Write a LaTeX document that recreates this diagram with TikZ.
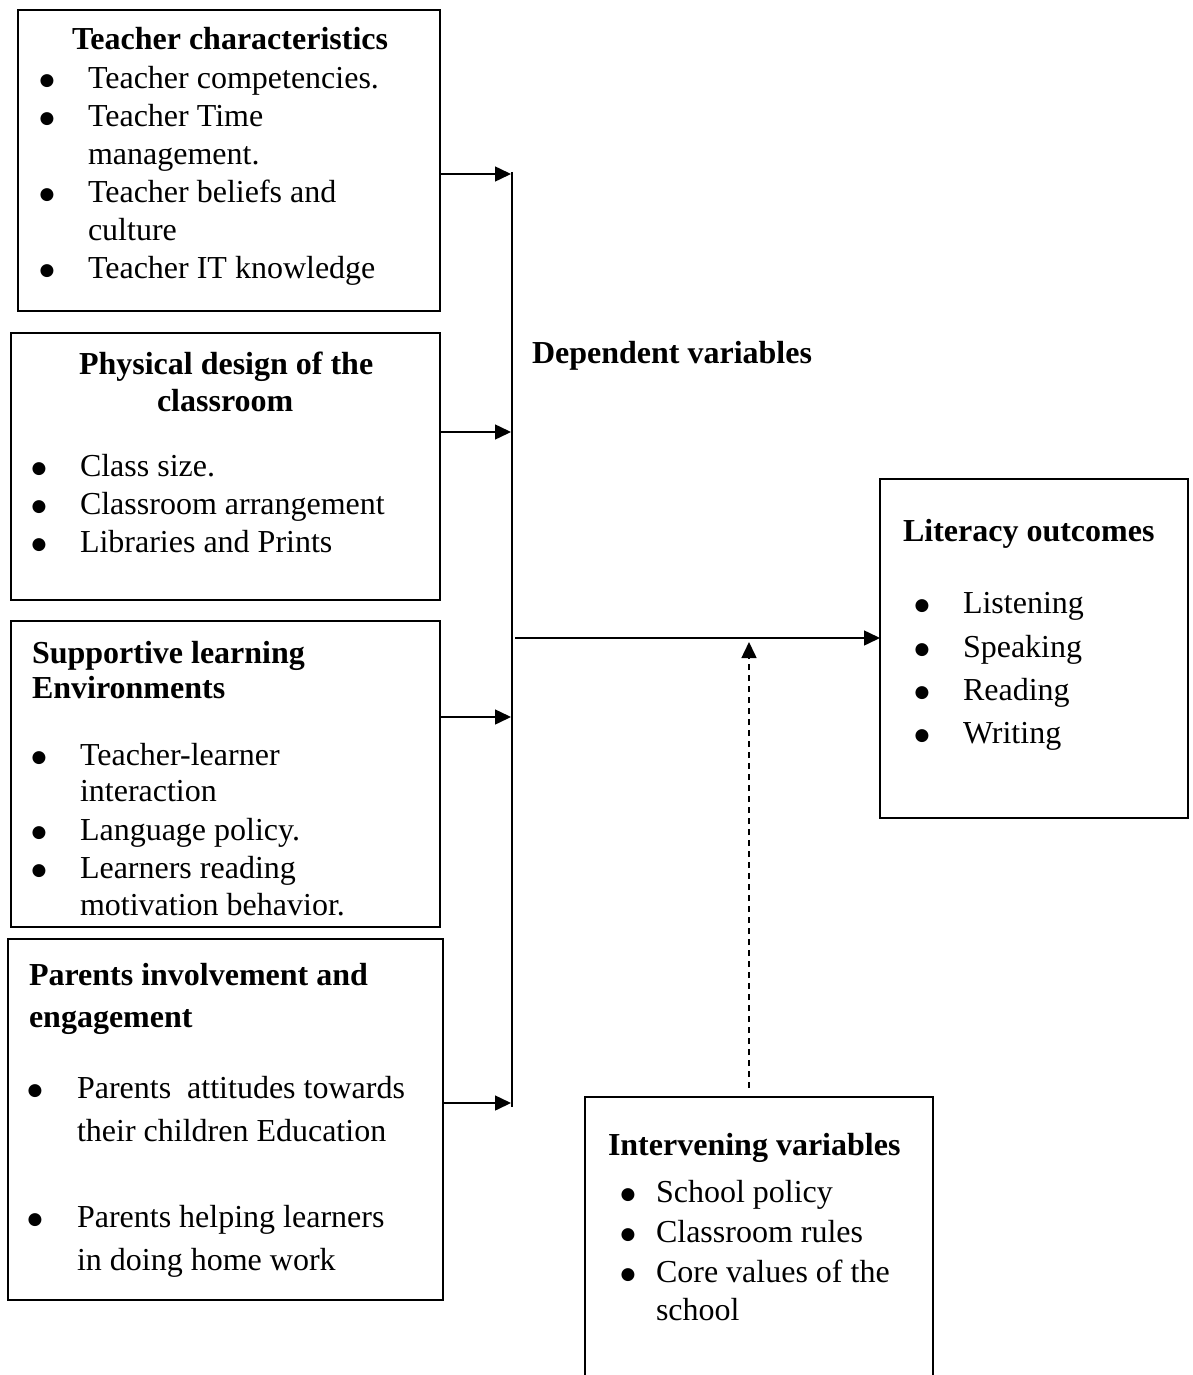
\documentclass[tikz,border=0pt]{standalone}
\usepackage{fontspec}
\setmainfont{Liberation Serif}
\newfontfamily\bulfont{DejaVu Sans}
\usetikzlibrary{arrows.meta}
\tikzset{
  box/.style={draw, line width=2.5pt, anchor=north west, inner sep=0pt, outer sep=0pt},
  txt/.style={anchor=base west, inner sep=0pt, outer sep=0pt, font=\fontsize{32}{38}\selectfont},
  ttl/.style={txt, font=\fontsize{32}{38}\selectfont\bfseries},
  bul/.style={anchor=base, inner sep=0pt, outer sep=0pt, yshift=3pt, font=\bulfont\fontsize{17}{17}\selectfont},
  conn/.style={line width=1.5pt},
  arr/.style={line width=1.5pt, -{Triangle[length=16pt,width=15pt]}},
  darr/.style={line width=1.5pt, dash pattern=on 6pt off 5pt, -{Triangle[length=16pt,width=15pt]}}
}
\begin{document}
\begin{tikzpicture}[x=1pt,y=-1pt]
\path[use as bounding box, clip] (0,0) rectangle (1192,1375);
\fill[white] (0,0) rectangle (1192,1375);

% Box 1
\node[box, minimum width=422pt, minimum height=301pt] (b1) at (18,10) {};
\node[ttl] (b1t) at (72,50) {Teacher characteristics};
\node[bul] (b1p1) at (47,89) {●};
\node[txt] (b1l1) at (88,89) {Teacher competencies.};
\node[bul] (b1p2) at (47,127) {●};
\node[txt] (b1l2) at (88,127) {Teacher Time};
\node[txt] (b1l3) at (88,165) {management.};
\node[bul] (b1p3) at (47,203) {●};
\node[txt] (b1l4) at (88,203) {Teacher beliefs and};
\node[txt] (b1l5) at (88,240) {culture};
\node[bul] (b1p4) at (47,278) {●};
\node[txt] (b1l6) at (88,278) {Teacher IT knowledge};

% Box 2
\node[box, minimum width=429pt, minimum height=267pt] (b2) at (11,333) {};
\node[ttl] (b2t1) at (79,374) {Physical design of the};
\node[ttl] (b2t2) at (157,411) {classroom};
\node[bul] (b2p1) at (39,476) {●};
\node[txt] (b2l1) at (80,476) {Class size.};
\node[bul] (b2p2) at (39,514) {●};
\node[txt] (b2l2) at (80,514) {Classroom arrangement};
\node[bul] (b2p3) at (39,552) {●};
\node[txt] (b2l3) at (80,552) {Libraries and Prints};

% Box 3
\node[box, minimum width=429pt, minimum height=306pt] (b3) at (11,621) {};
\node[ttl] (b3t1) at (32,663) {Supportive learning};
\node[ttl] (b3t2) at (32,698) {Environments};
\node[bul] (b3p1) at (39,765) {●};
\node[txt] (b3l1) at (80,765) {Teacher-learner};
\node[txt] (b3l2) at (80,801) {interaction};
\node[bul] (b3p2) at (39,840) {●};
\node[txt] (b3l3) at (80,840) {Language policy.};
\node[bul] (b3p3) at (39,878) {●};
\node[txt] (b3l4) at (80,878) {Learners reading};
\node[txt] (b3l5) at (80,915) {motivation behavior.};

% Box 4
\node[box, minimum width=435pt, minimum height=361pt] (b4) at (8,939) {};
\node[ttl] (b4t1) at (29,985) {Parents involvement and};
\node[ttl] (b4t2) at (29,1027) {engagement};
\node[bul] (b4p1) at (35,1098) {●};
\node[txt] (b4l1) at (77,1098) {Parents\ \ attitudes towards};
\node[txt] (b4l2) at (77,1141) {their children Education};
\node[bul] (b4p2) at (35,1227) {●};
\node[txt] (b4l3) at (77,1227) {Parents helping learners};
\node[txt] (b4l4) at (77,1270) {in doing home work};

% Literacy outcomes
\node[box, minimum width=308pt, minimum height=339pt] (lit) at (880,479) {};
\node[ttl] (litt) at (903,541) {Literacy outcomes};
\node[bul] (litp1) at (922,613) {●};
\node[txt] (litl1) at (963,613) {Listening};
\node[bul] (litp2) at (922,657) {●};
\node[txt] (litl2) at (963,657) {Speaking};
\node[bul] (litp3) at (922,700) {●};
\node[txt] (litl3) at (963,700) {Reading};
\node[bul] (litp4) at (922,743) {●};
\node[txt] (litl4) at (963,743) {Writing};

% Intervening variables
\node[box, minimum width=348pt, minimum height=300pt] (intv) at (585,1097) {};
\node[ttl] (intvt) at (608,1155) {Intervening variables};
\node[bul] (intvp1) at (628,1202) {●};
\node[txt] (intvl1) at (656,1202) {School policy};
\node[bul] (intvp2) at (628,1242) {●};
\node[txt] (intvl2) at (656,1242) {Classroom rules};
\node[bul] (intvp3) at (628,1282) {●};
\node[txt] (intvl3) at (656,1282) {Core values of the};
\node[txt] (intvl4) at (656,1320) {school};

% Dependent variables label
\node[ttl] (dep) at (532,363) {Dependent variables};

% Connectors
\coordinate (bustop) at (512,172);
\coordinate (busbot) at (512,1107);
\draw[conn] (bustop) -- (busbot);
\coordinate (a1) at (511,174);
\coordinate (a2) at (511,432);
\coordinate (a3) at (511,717);
\coordinate (a4) at (511,1103);
\draw[arr] (b1.east |- a1) -- (a1);
\draw[arr] (b2.east |- a2) -- (a2);
\draw[arr] (b3.east |- a3) -- (a3);
\draw[arr] (b4.east |- a4) -- (a4);
\coordinate (m0) at (515,638);
\draw[arr] (m0) -- (m0 -| lit.west);
\coordinate (ds) at (749,1088);
\coordinate (de) at (749,642);
\draw[darr] (ds) -- (de);
\end{tikzpicture}
\end{document}
